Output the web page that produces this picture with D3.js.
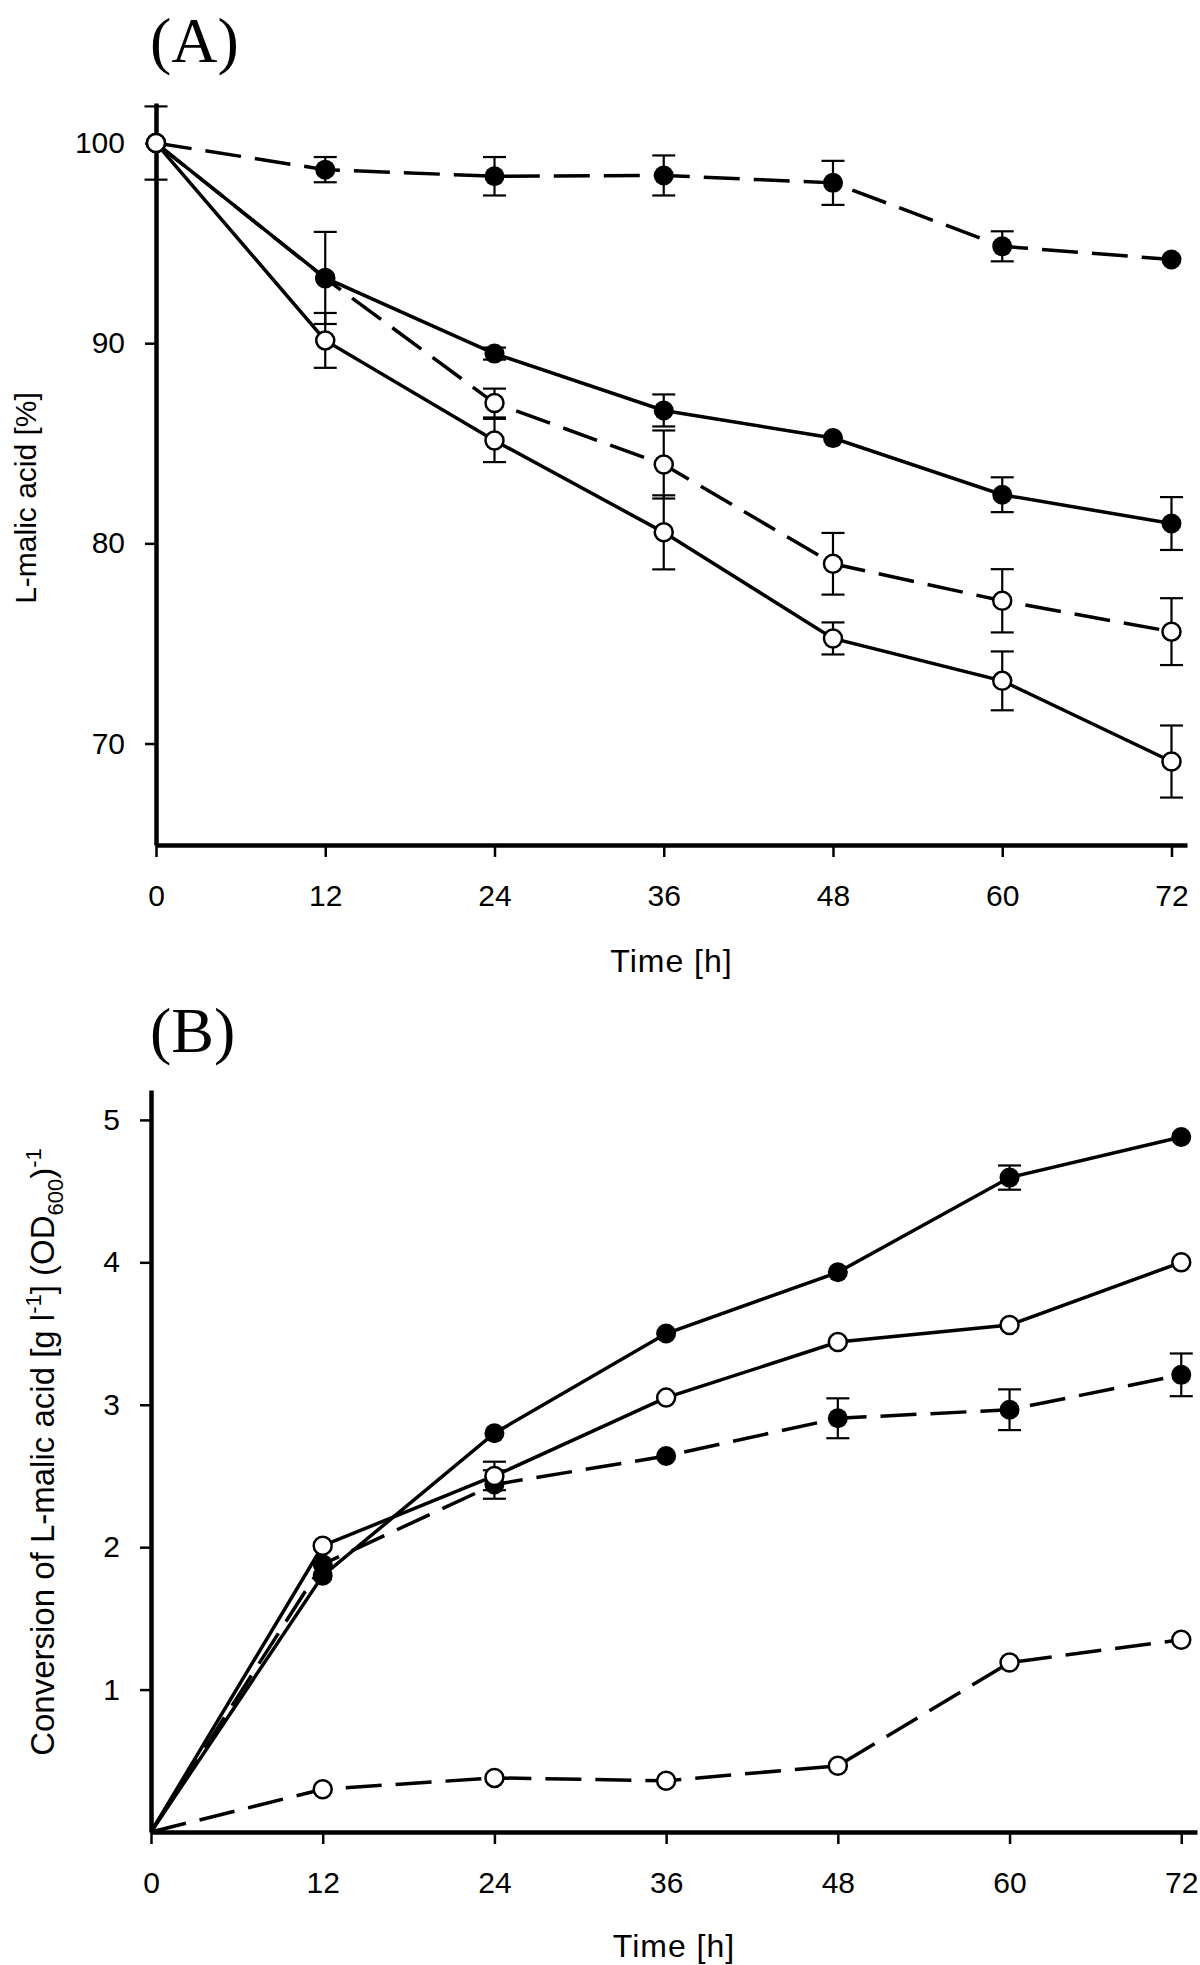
<!DOCTYPE html>
<html><head><meta charset="utf-8">
<script src="https://cdn.jsdelivr.net/npm/d3@7"></script>
<style>body{margin:0;background:#fff}</style></head>
<body>
<svg id="chart" width="1200" height="1965"></svg>
<script>
// ---------- data ----------
const times = [0, 12, 24, 36, 48, 60, 72];
const xTickValues = [0, 12, 24, 36, 48, 60, 72];
const aTickValues = [70, 80, 90, 100];
const bTickValues = [1, 2, 3, 4, 5];

// Panel A: L-malic acid [%]
const aFilledDashed     = [100, 98.67, 98.34, 98.38, 98.01, 94.84, 94.18];
const aFilledDashedErr  = [0, 0.63, 0.96, 1.0, 1.1, 0.75, 0];
const aFilledSolid      = [100, 93.26, 89.48, 86.64, 85.26, 82.43, 80.99];
const aFilledSolidErr   = [0, 2.3, 0.3, 0.8, 0, 0.87, 1.32];
const aOpenDashed       = [100, 93.24, 87.01, 83.94, 78.98, 77.13, 75.59];
const aOpenDashedErr    = [0, 0, 0.72, 1.7, 1.54, 1.58, 1.67];
const aOpenSolid        = [100, 90.14, 85.14, 80.55, 75.25, 73.13, 69.1];
const aOpenSolidErr     = [1.83, 1.37, 1.08, 1.85, 0.8, 1.47, 1.8];

// Panel B: Conversion of L-malic acid [g l-1] (OD600)-1
const bFilledSolid      = [0, 1.80, 2.80, 3.50, 3.93, 4.595, 4.88];
const bFilledSolidErr   = [0, 0, 0, 0, 0, 0.085, 0];
const bOpenSolid        = [0, 2.01, 2.50, 3.05, 3.44, 3.56, 4.00];
const bOpenSolidErr     = [0, 0, 0.1, 0, 0, 0, 0];
const bFilledDashed     = [0, 1.88, 2.44, 2.64, 2.905, 2.965, 3.21];
const bFilledDashedErr  = [0, 0, 0.1, 0, 0.14, 0.143, 0.15];
const bOpenDashed       = [0, 0.30, 0.38, 0.36, 0.465, 1.19, 1.35];
const bOpenDashedErr    = [0, 0, 0, 0, 0, 0, 0];

// ---------- drawing ----------
const svg = d3.select("#chart");
const FONT = "'Liberation Sans', Arial, Helvetica, sans-serif";
const SERIF = "'Liberation Serif', 'Times New Roman', serif";
const DASH = "36,14";

function panel(cfg) {
  const g = svg.append("g");
  const x = d3.scaleLinear().domain([0, 73.1]).range(cfg.xRange);
  const y = d3.scaleLinear().domain(cfg.yDomain).range(cfg.yRange);

  // title
  g.append("text").attr("x", cfg.titlePos[0]).attr("y", cfg.titlePos[1])
    .attr("font-family", SERIF).attr("font-size", 64).attr("fill", "#000")
    .text(cfg.title);

  // axes
  const xa = g.append("g").attr("transform", `translate(0,${cfg.yRange[0]})`)
    .call(d3.axisBottom(x).tickValues(xTickValues).tickFormat(d3.format("d"))
      .tickSize(12).tickSizeOuter(0).tickPadding(28));
  const ya = g.append("g").attr("transform", `translate(${cfg.xRange[0]},0)`)
    .call(d3.axisLeft(y).tickValues(cfg.yTicks).tickFormat(d3.format("d"))
      .tickSize(11).tickSizeOuter(0).tickPadding(20));
  [xa, ya].forEach(a => {
    a.select(".domain").attr("stroke", "#000").attr("stroke-width", 4.5);
    a.selectAll(".tick line").attr("stroke", "#000").attr("stroke-width", 2.5);
    a.selectAll(".tick text").attr("font-family", FONT).attr("font-size", 30).attr("fill", "#000");
  });

  // x label
  g.append("text").attr("x", (cfg.xRange[0] + cfg.xRange[1]) / 2).attr("y", cfg.xLabelY)
    .attr("text-anchor", "middle").attr("font-family", FONT).attr("font-size", 32)
    .attr("letter-spacing", 1)
    .text("Time [h]");

  // y label
  const yl = g.append("text")
    .attr("transform", `translate(${cfg.yLabelPos[0]},${cfg.yLabelPos[1]}) rotate(-90)`)
    .attr("text-anchor", "middle").attr("font-family", FONT).attr("font-size", cfg.yLabelSize);
  cfg.yLabel(yl);

  const line = d3.line().x((d, i) => x(times[i])).y(d => y(d));

  // lines
  cfg.series.forEach(s => {
    g.append("path").datum(s.values).attr("d", line)
      .attr("fill", "none").attr("stroke", "#000").attr("stroke-width", 3.5)
      .attr("stroke-dasharray", s.dashed ? DASH : null);
  });
  // error bars
  cfg.series.forEach(s => {
    const eb = g.append("g").attr("stroke", "#000").attr("stroke-width", 2.2);
    s.values.forEach((v, i) => {
      const e = s.err[i];
      if (!e) return;
      const cx = x(times[i]);
      eb.append("line").attr("x1", cx).attr("x2", cx).attr("y1", y(v - e)).attr("y2", y(v + e));
      eb.append("line").attr("x1", cx - 11.5).attr("x2", cx + 11.5).attr("y1", y(v - e)).attr("y2", y(v - e));
      eb.append("line").attr("x1", cx - 11.5).attr("x2", cx + 11.5).attr("y1", y(v + e)).attr("y2", y(v + e));
    });
  });
  // markers
  cfg.series.forEach(s => {
    g.append("g").selectAll("circle")
      .data(s.values.map((v, i) => ({v, i})).filter(d => cfg.markerAtZero || d.i > 0))
      .join("circle")
      .attr("cx", d => x(times[d.i])).attr("cy", d => y(d.v))
      .attr("r", s.filled ? 10 : 9)
      .attr("fill", s.filled ? "#000" : "#fff")
      .attr("stroke", "#000").attr("stroke-width", s.filled ? 0 : 2.5);
  });
}

panel({
  title: "(A)", titlePos: [150, 62],
  xRange: [156, 1187], yDomain: [64.93, 102], yRange: [845, 103],
  yTicks: aTickValues, xLabelY: 972,
  yLabelPos: [36, 498], yLabelSize: 30,
  yLabel: t => t.text("L-malic acid [%]"),
  markerAtZero: true,
  series: [
    {values: aFilledDashed, err: aFilledDashedErr, filled: true, dashed: true},
    {values: aOpenDashed, err: aOpenDashedErr, filled: false, dashed: true},
    {values: aFilledSolid, err: aFilledSolidErr, filled: true, dashed: false},
    {values: aOpenSolid, err: aOpenSolidErr, filled: false, dashed: false}
  ]
});

panel({
  title: "(B)", titlePos: [150, 1052],
  xRange: [151, 1197], yDomain: [0, 5.21], yRange: [1832, 1090],
  yTicks: bTickValues, xLabelY: 1957,
  yLabelPos: [54, 1452], yLabelSize: 33,
  yLabel: t => {
    t.append("tspan").text("Conversion of L-malic acid [g l");
    t.append("tspan").attr("dy", -13).attr("font-size", 22).text("-1");
    t.append("tspan").attr("dy", 13).text("] (OD");
    t.append("tspan").attr("dy", 9).attr("font-size", 22).text("600");
    t.append("tspan").attr("dy", -9).text(")");
    t.append("tspan").attr("dy", -13).attr("font-size", 22).text("-1");
  },
  markerAtZero: false,
  series: [
    {values: bFilledDashed, err: bFilledDashedErr, filled: true, dashed: true},
    {values: bOpenDashed, err: bOpenDashedErr, filled: false, dashed: true},
    {values: bFilledSolid, err: bFilledSolidErr, filled: true, dashed: false},
    {values: bOpenSolid, err: bOpenSolidErr, filled: false, dashed: false}
  ]
});
</script>
</body></html>
